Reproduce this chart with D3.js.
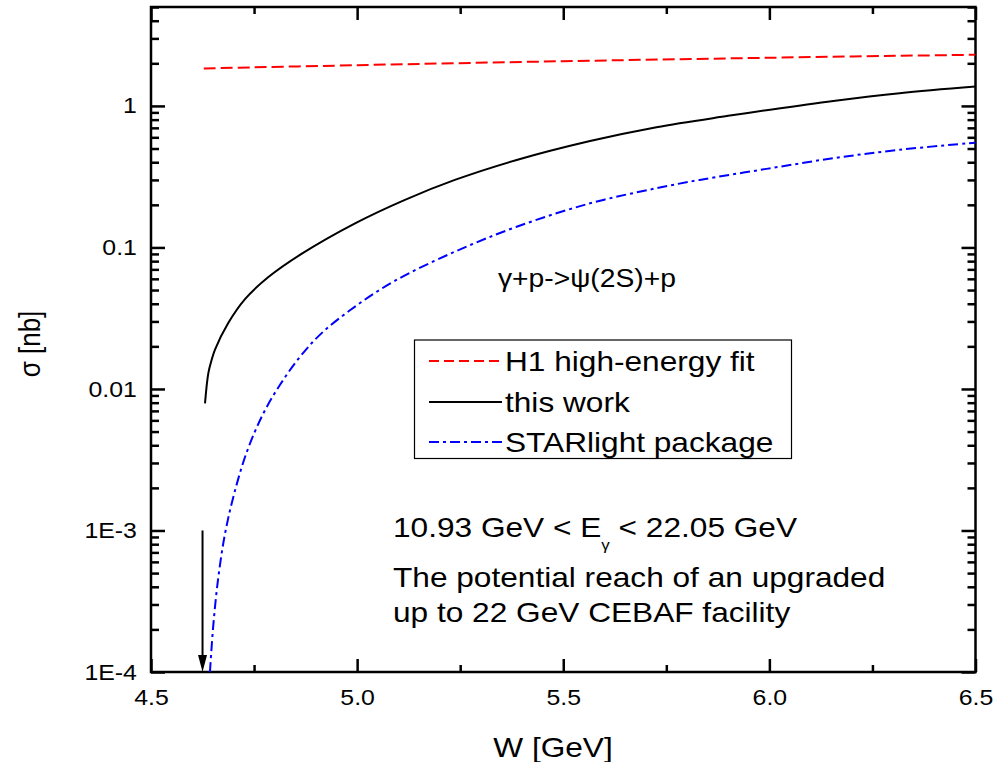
<!DOCTYPE html>
<html><head><meta charset="utf-8">
<script src="https://cdn.jsdelivr.net/npm/d3@7"></script>
<style>body{margin:0;background:#fff}svg{display:block}text{font-family:"Liberation Sans",Arial,sans-serif;fill:#000}</style>
</head><body>
<script>
// ---- data ----
const xTickValues = [4.5, 5.0, 5.5, 6.0, 6.5];
const xTickLabels = ["4.5", "5.0", "5.5", "6.0", "6.5"];
const xMinorTicks = [4.75, 5.25, 5.75, 6.25];
const yTickValues = [1e-4, 1e-3, 0.01, 0.1, 1];
const yTickLabels = ["1E-4", "1E-3", "0.01", "0.1", "1"];

const wH1 = [4.628, 5.0, 5.5, 6.0, 6.5];
const sigmaH1 = [1.84, 1.94, 2.07, 2.19, 2.30];

const wThisWork = [4.631, 4.639, 4.647, 4.655, 4.687, 4.728, 4.784, 4.865, 4.995, 5.116, 5.237, 5.387, 5.565, 5.726, 5.900, 5.993, 6.155, 6.316, 6.5];
const sigmaThisWork = [0.0079, 0.0129, 0.0160, 0.0189, 0.0291, 0.0431, 0.0615, 0.090, 0.148, 0.217, 0.300, 0.415, 0.565, 0.708, 0.851, 0.933, 1.084, 1.23, 1.37];

const wStarlight = [4.643, 4.651, 4.663, 4.679, 4.700, 4.732, 4.772, 4.813, 4.861, 4.914, 4.995, 5.092, 5.237, 5.387, 5.565, 5.726, 5.831, 5.993, 6.155, 6.316, 6.5];
const sigmaStarlight = [1.0e-4, 2.12e-4, 4.6e-4, 9.3e-4, 1.74e-3, 3.56e-3, 6.67e-3, 0.0107, 0.0168, 0.0248, 0.0382, 0.0582, 0.0933, 0.140, 0.205, 0.262, 0.300, 0.359, 0.427, 0.490, 0.55];

const thresholdW = 4.625;
const arrowTop = 1e-3;

const seriesNames = ["H1 high-energy fit", "this work", "STARlight package"];
const seriesColors = ["#ff0000", "#000000", "#0000ff"];
const seriesDash = ["12,5", null, "10,4,3,4"];
const legendDash = ["10,5", null, "10,4,3,4"];

// ---- layout ----
const W = 995, H = 762;
const pLeft = 151, pRight = 975.5, pTop = 7, pBottom = 672;
const SX = 1.13; // horizontal text stretch

const svg = d3.select("body").append("svg").attr("width", W).attr("height", H);
const x = d3.scaleLinear().domain([4.5, 6.5]).range([pLeft, pRight]);
const y = d3.scaleLog().domain([1e-4, 5]).range([pBottom, pTop]);

const yMinor = [];
for (let e = -4; e <= 0; e++) for (let k = 2; k <= 9; k++) { const v = k * Math.pow(10, e); if (v <= 5) yMinor.push(v); }

function styleAxis(g) { g.select(".domain").remove(); g.selectAll("line").attr("stroke", "#000").attr("stroke-width", 2.5); }
function styleLabels(g) {
  g.selectAll("text").attr("font-size", 22).attr("font-family", "Liberation Sans, Arial, sans-serif")
    .attr("fill", "#000").attr("transform", `scale(${SX},1)`);
}

// bottom
svg.append("g").attr("transform", `translate(0,${pBottom})`)
  .call(d3.axisBottom(x).tickValues(xTickValues).tickSize(-13).tickPadding(17).tickFormat((d, i) => xTickLabels[i]))
  .call(styleAxis).call(styleLabels);
svg.append("g").attr("transform", `translate(0,${pBottom})`)
  .call(d3.axisBottom(x).tickValues(xMinorTicks).tickSize(-7).tickFormat("")).call(styleAxis);
// top
svg.append("g").attr("transform", `translate(0,${pTop})`)
  .call(d3.axisTop(x).tickValues(xTickValues).tickSize(-13).tickFormat("")).call(styleAxis);
svg.append("g").attr("transform", `translate(0,${pTop})`)
  .call(d3.axisTop(x).tickValues(xMinorTicks).tickSize(-7).tickFormat("")).call(styleAxis);
// left
svg.append("g").attr("transform", `translate(${pLeft},0)`)
  .call(d3.axisLeft(y).tickValues(yTickValues).tickSize(-14).tickPadding(12.5).tickFormat((d, i) => yTickLabels[i]))
  .call(styleAxis).call(styleLabels);
svg.append("g").attr("transform", `translate(${pLeft},0)`)
  .call(d3.axisLeft(y).tickValues(yMinor).tickSize(-8).tickFormat("")).call(styleAxis);
// right
svg.append("g").attr("transform", `translate(${pRight},0)`)
  .call(d3.axisRight(y).tickValues(yTickValues).tickSize(-14).tickFormat("")).call(styleAxis);
svg.append("g").attr("transform", `translate(${pRight},0)`)
  .call(d3.axisRight(y).tickValues(yMinor).tickSize(-8).tickFormat("")).call(styleAxis);

// frame
svg.append("rect").attr("x", pLeft).attr("y", pTop).attr("width", pRight - pLeft).attr("height", pBottom - pTop)
  .attr("fill", "none").attr("stroke", "#000").attr("stroke-width", 2.5);

// curves
svg.append("clipPath").attr("id", "clip").append("rect")
  .attr("x", pLeft).attr("y", pTop).attr("width", pRight - pLeft).attr("height", pBottom - pTop);
const line = d3.line().x(d => x(d[0])).y(d => y(d[1])).curve(d3.curveCatmullRom.alpha(0.5));
const series = [d3.zip(wH1, sigmaH1), d3.zip(wThisWork, sigmaThisWork), d3.zip(wStarlight, sigmaStarlight)];
series.forEach((s, i) => {
  svg.append("path").attr("d", line(s)).attr("fill", "none").attr("stroke", seriesColors[i])
    .attr("stroke-width", 2).attr("stroke-dasharray", seriesDash[i]).attr("clip-path", "url(#clip)");
});

// arrow
const ax = x(thresholdW);
svg.append("line").attr("x1", ax).attr("x2", ax).attr("y1", y(arrowTop)).attr("y2", y(1e-4) - 14)
  .attr("stroke", "#000").attr("stroke-width", 2);
svg.append("path").attr("d", `M${ax - 4.5},${y(1e-4) - 17}L${ax + 4.5},${y(1e-4) - 17}L${ax},${y(1e-4)}Z`).attr("fill", "#000");

function txt(xp, yp, s, size, anchor) {
  return svg.append("text").attr("transform", `translate(${xp},${yp}) scale(${SX},1)`)
    .attr("font-size", size).attr("text-anchor", anchor || "start").text(s);
}

// legend
svg.append("rect").attr("x", 414.5).attr("y", 340).attr("width", 377).attr("height", 118.5)
  .attr("fill", "#fff").attr("stroke", "#000").attr("stroke-width", 1.2);
const legY = [361, 402, 442];
seriesNames.forEach((n, i) => {
  svg.append("line").attr("x1", 429).attr("x2", 502).attr("y1", legY[i]).attr("y2", legY[i])
    .attr("stroke", seriesColors[i]).attr("stroke-width", 1.8).attr("stroke-dasharray", legendDash[i]);
  txt(505, legY[i] + 10, n, 28);
});

// annotations
txt(498, 287, "γ+p->ψ(2S)+p", 25);
const t1 = svg.append("text").attr("transform", `translate(393,537) scale(${SX},1)`).attr("font-size", 28);
t1.append("tspan").text("10.93 GeV < E");
t1.append("tspan").attr("font-size", 15).attr("dy", 13).text("γ");
t1.append("tspan").attr("dy", -13).text(" < 22.05 GeV");
txt(393, 587, "The potential reach of an upgraded", 28);
txt(393, 622, "up to 22 GeV CEBAF facility", 28);

// axis titles
txt(553, 757, "W [GeV]", 28, "middle");
svg.append("text").attr("transform", `translate(40,344) rotate(-90) scale(1,${SX})`)
  .attr("font-size", 26).attr("text-anchor", "middle").text("σ [nb]");
</script>
</body></html>
